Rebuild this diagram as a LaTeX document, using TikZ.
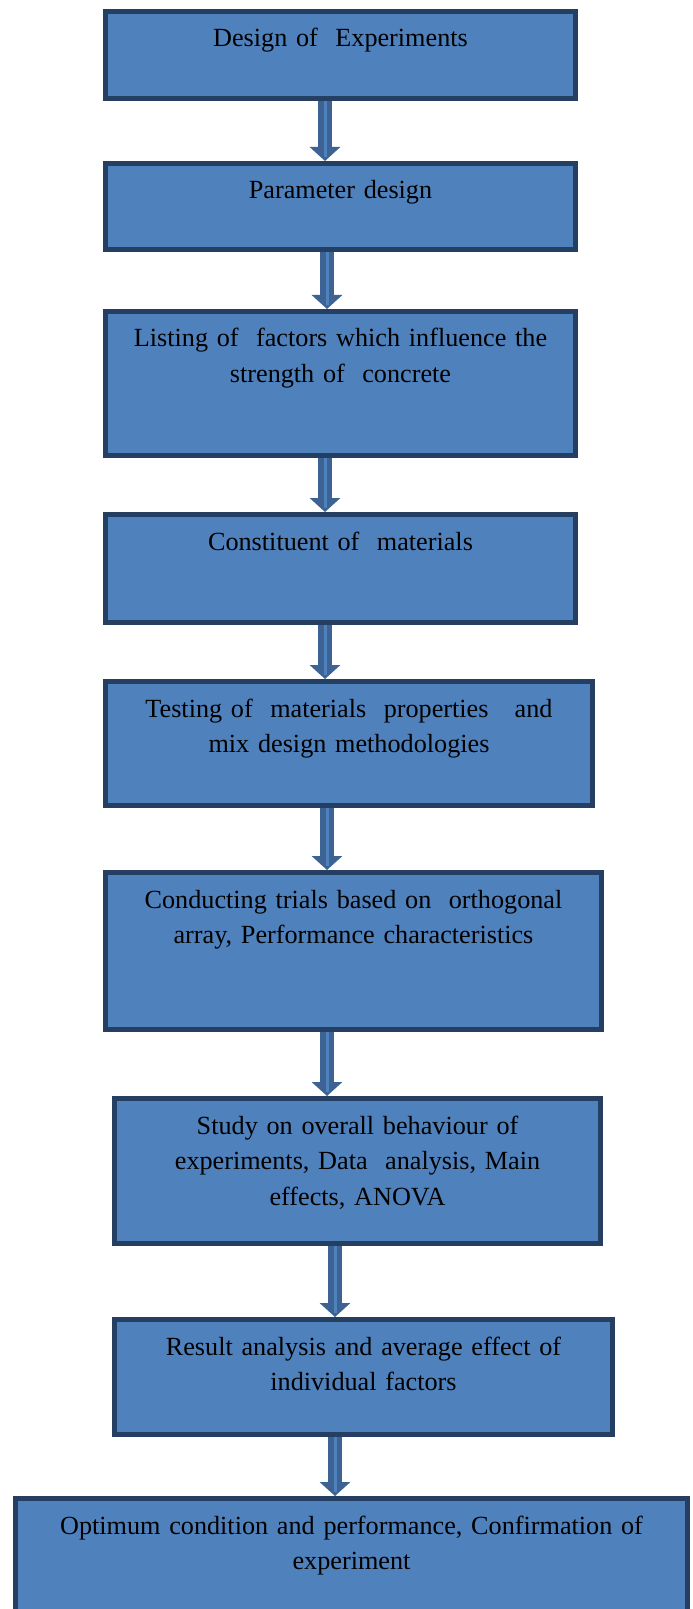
\documentclass[tikz,border=0pt]{standalone}
\usepackage{fontspec}
\setmainfont{Liberation Serif}
\usetikzlibrary{arrows.meta,positioning}
\definecolor{boxfill}{HTML}{4F81BD}
\definecolor{boxedge}{HTML}{253F62}
\definecolor{arrowblue}{HTML}{3C6394}
\tikzset{
    stepbox/.style={rectangle,draw=boxedge,fill=boxfill,line width=2.5pt,anchor=north west,align=center,inner xsep=0pt,inner ysep=0pt,text height=17.75pt,font=\fontsize{13.1}{17.85}\selectfont},
    flowarrow/.style={draw=arrowblue,line width=7pt,-{Triangle[width=15pt,length=7pt]},postaction={draw=boxfill,line width=1.5pt,-,shorten >=2pt}}
}
\begin{document}
\begin{tikzpicture}[x=0.5pt,y=-0.5pt]
            \useasboundingbox (0,0) rectangle (692,1609);
            \node[stepbox,text width=235pt,text depth=25.75pt] (design) at (103,9) {Design of\ \ Experiments};
            \node[stepbox,text width=235pt,text depth=25.25pt] (param) at (103,161) {Parameter design};
            \node[stepbox,text width=235pt,text depth=54.25pt] (factors) at (103,309) {Listing of\ \ factors which influence the\\strength of\ \ concrete};
            \node[stepbox,text width=235pt,text depth=36.25pt] (constit) at (103,512) {Constituent of\ \ materials};
            \node[stepbox,text width=243.5pt,text depth=44.25pt] (testing) at (103,679) {Testing of\ \ materials\ \ properties\ \ \ and\\mix design methodologies};
            \node[stepbox,text width=248pt,text depth=60.75pt] (trials) at (103,870) {Conducting trials based on\ \ orthogonal\\array, Performance characteristics};
            \node[stepbox,text width=243pt,text depth=54.75pt] (study) at (112,1096) {Study on overall behaviour of\\experiments, Data\ \ analysis, Main\\effects, ANOVA};
            \node[stepbox,text width=249pt,text depth=39.75pt] (result) at (112,1317) {Result analysis and average effect of\\individual factors};
            \node[stepbox,text width=336pt,text depth=61.75pt] (optimum) at (13,1496) {Optimum condition and performance, Confirmation of\\experiment};
            \draw[flowarrow] ([xshift=-7.75pt]design.south) -- ([xshift=-7.75pt]design.south |- param.north);
            \draw[flowarrow] ([xshift=-6.75pt]param.south) -- ([xshift=-6.75pt]param.south |- factors.north);
            \draw[flowarrow] ([xshift=-7.75pt]factors.south) -- ([xshift=-7.75pt]factors.south |- constit.north);
            \draw[flowarrow] ([xshift=-7.75pt]constit.south) -- ([xshift=-7.75pt]constit.south |- testing.north);
            \draw[flowarrow] ([xshift=-11pt]testing.south) -- ([xshift=-11pt]testing.south |- trials.north);
            \draw[flowarrow] ([xshift=-13.25pt]trials.south) -- ([xshift=-13.25pt]trials.south |- study.north);
            \draw[flowarrow] ([xshift=-11.25pt]study.south) -- ([xshift=-11.25pt]study.south |- result.north);
            \draw[flowarrow] ([xshift=-14.25pt]result.south) -- ([xshift=-14.25pt]result.south |- optimum.north);
        \end{tikzpicture}
\end{document}
